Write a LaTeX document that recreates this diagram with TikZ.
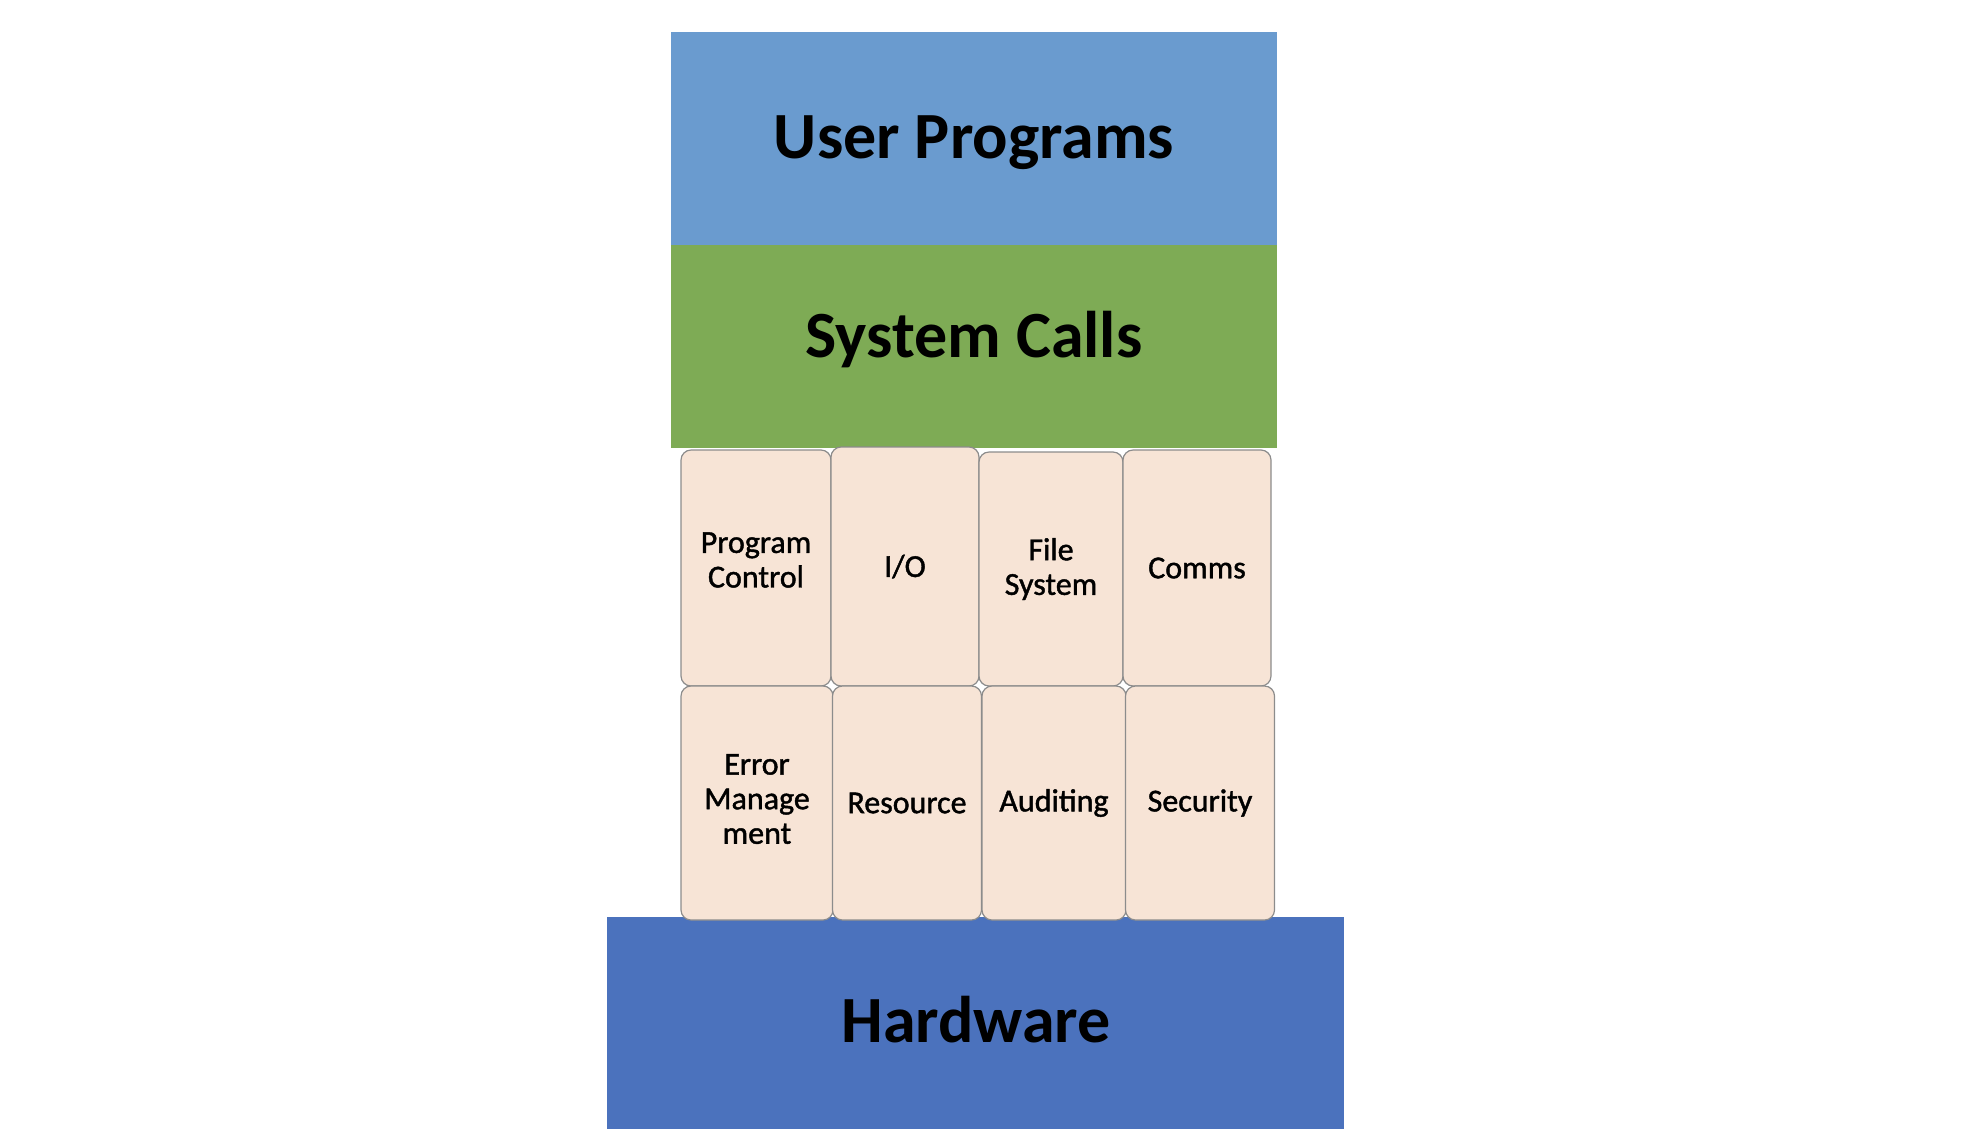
\documentclass[tikz,border=0pt]{standalone}
\usepackage{fontspec}
\setmainfont{Carlito}
\newfontface\tilefont[FakeBold=1.3]{Carlito}
\definecolor{userblue}{RGB}{106,155,207}
\definecolor{callgreen}{RGB}{126,171,85}
\definecolor{hwblue}{RGB}{75,114,189}
\definecolor{tilefill}{RGB}{247,228,214}
\definecolor{tileline}{RGB}{140,140,140}
\begin{document}
\begin{tikzpicture}[x=0.5pt,y=-0.5pt,
  layer/.style={draw=none, inner sep=0pt, font=\bfseries\fontsize{33}{40}\selectfont},
  tile/.style={draw=tileline, line width=0.6pt, fill=tilefill, rounded corners=5pt, inner sep=0pt},
  tiletext/.style={inner sep=0pt, align=center, font=\tilefont\fontsize{16}{17.3}\selectfont}]
\useasboundingbox (0,0) rectangle (1964,1142);
% layers
\fill[userblue] (671,32) rectangle (1277,246);
\fill[callgreen] (671,245) rectangle (1277,448);
\fill[hwblue] (607,917) rectangle (1344,1129);
\node[layer] (user) at (974,143) {User Programs};
\node[layer] (calls) at (974,340) {System Calls};
% tiles row 1
\node[tile, minimum width=75pt, minimum height=118pt] (pc) at (756,568) {};
\node[tile, minimum width=74pt, minimum height=119.5pt] (io) at (905,566.5) {};
\node[tile, minimum width=72pt, minimum height=117pt] (fs) at (1051,569) {};
\node[tile, minimum width=74pt, minimum height=118pt] (cm) at (1197,568) {};
% tiles row 2
\node[tile, minimum width=76pt, minimum height=117pt] (em) at (757,803) {};
\node[tile, minimum width=74.5pt, minimum height=117pt] (rs) at (907,803) {};
\node[tile, minimum width=72pt, minimum height=117pt] (au) at (1054,803) {};
\node[tile, minimum width=74.5pt, minimum height=117pt] (se) at (1200,803) {};
% tile texts
\node[tiletext, yshift=4pt] (pct) at (pc.center) {Program\\Control};
\node[tiletext] (iot) at (io.center) {I/O};
\node[tiletext] (fst) at (fs.center) {File\\System};
\node[tiletext] (cmt) at (cm.center) {Comms};
\node[tiletext, yshift=2pt] (emt) at (em.center) {Error\\Manage\\ment};
\node[tiletext] (rst) at (rs.center) {Resource};
\node[tiletext] (aut) at (au.center) {Auditing};
\node[tiletext] (set) at (se.center) {Security};
\node[layer] (hw) at (976,1020) {Hardware};
\end{tikzpicture}
\end{document}
